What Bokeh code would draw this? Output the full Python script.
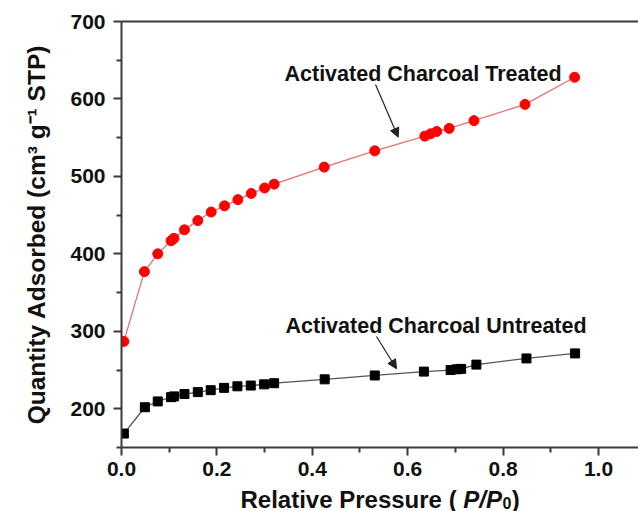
from bokeh.plotting import figure
from bokeh.layouts import column
from bokeh.models import (Range1d, FixedTicker, LinearAxis, Label, Arrow, NormalHead,
                          ColumnDataSource)
from bokeh.embed import file_html
from bokeh.resources import INLINE

# ---------------- data ----------------
treated_x = [0.005, 0.048, 0.076, 0.104, 0.110, 0.132, 0.160, 0.188, 0.216, 0.244, 0.272,
             0.300, 0.320, 0.425, 0.531, 0.636, 0.648, 0.661, 0.687, 0.739, 0.846, 0.950]
treated_y = [287, 377, 400, 417, 420, 431, 443, 454, 462, 470, 478,
             485, 490, 512, 533, 552, 555, 558, 562, 572, 593, 628]

untreated_x = [0.005, 0.049, 0.076, 0.104, 0.110, 0.132, 0.160, 0.187, 0.215, 0.243, 0.271,
               0.299, 0.320, 0.426, 0.531, 0.634, 0.690, 0.703, 0.712, 0.744, 0.849, 0.951]
untreated_y = [168, 202, 209.5, 215, 216, 219, 221.5, 224, 227, 229, 230,
               231.5, 233, 238, 243, 248, 250, 251, 251.5, 257, 265, 271.5]

x_major = [0.0, 0.2, 0.4, 0.6, 0.8, 1.0]
x_minor = [0.1, 0.3, 0.5, 0.7, 0.9]
y_major = [200, 300, 400, 500, 600, 700]
y_minor = [150, 250, 350, 450, 550, 650]

label_treated = "Activated Charcoal Treated"
label_untreated = "Activated Charcoal Untreated"
y_title = "Quantity Adsorbed (cm\u00b3 g\u207b\u00b9 STP)"
x_title_parts = ["Relative Pressure (", "P/P", "0", ")"]

FONT = "Liberation Sans"
AXC = "#3a3a3a"
TXT = "#111111"

# ---------------- layout ----------------
W = 638
H_MAIN = 484
H_TITLE = 27
FL, FT, FB = 121, 21, 447          # frame left / top / bottom in pixels
X0, X1 = 0.0, 1.0839
Y0, Y1 = 150, 700

def px_x(px):
    return X0 + (px - FL) * (X1 - X0) / (W - FL)

def px_y(py):
    return Y1 - (py - FT) * (Y1 - Y0) / (FB - FT)

p = figure(width=W, height=H_MAIN, x_range=Range1d(X0, X1), y_range=Range1d(Y0, Y1),
           output_backend="svg", toolbar_location=None, title=None,
           min_border_left=FL, min_border_right=0, min_border_top=FT,
           min_border_bottom=H_MAIN - FB)
p.outline_line_color = None
p.xgrid.visible = False
p.ygrid.visible = False
p.background_fill_color = "white"
p.border_fill_color = "white"

# x axis
xa = p.xaxis[0]
xa.ticker = FixedTicker(ticks=x_major, minor_ticks=x_minor)
xa.major_label_overrides = {v: f"{v:.1f}" for v in x_major}
xa.axis_line_color = AXC
xa.axis_line_width = 2
xa.major_tick_line_color = AXC
xa.major_tick_line_width = 2
xa.minor_tick_line_color = AXC
xa.minor_tick_line_width = 2
xa.major_tick_out = 8
xa.major_tick_in = 0
xa.minor_tick_out = 5
xa.minor_tick_in = 0
xa.major_label_text_font = FONT
xa.major_label_text_font_style = "bold"
xa.major_label_text_font_size = "21px"
xa.major_label_text_color = TXT
xa.major_label_standoff = 6

# y axis
ya = p.yaxis[0]
ya.ticker = FixedTicker(ticks=y_major, minor_ticks=y_minor)
ya.axis_line_color = AXC
ya.axis_line_width = 2
ya.major_tick_line_color = AXC
ya.major_tick_line_width = 2
ya.minor_tick_line_color = AXC
ya.minor_tick_line_width = 2
ya.major_tick_out = 8
ya.major_tick_in = 0
ya.minor_tick_out = 5
ya.minor_tick_in = 0
ya.major_label_text_font = FONT
ya.major_label_text_font_style = "bold"
ya.major_label_text_font_size = "21px"
ya.major_label_text_color = TXT
ya.major_label_standoff = 8
ya.axis_label = y_title
ya.axis_label_text_font = FONT
ya.axis_label_text_font_style = "bold"
ya.axis_label_text_font_size = "24.5px"
ya.axis_label_text_color = TXT
ya.axis_label_standoff = 17

# top border line (no ticks)
top = LinearAxis(ticker=FixedTicker(ticks=[]), axis_line_color=AXC, axis_line_width=2,
                 major_tick_line_color=None, minor_tick_line_color=None,
                 major_label_text_font_size="0px")
p.add_layout(top, "above")

# ---------------- series ----------------
src_t = ColumnDataSource(dict(x=treated_x, y=treated_y))
src_u = ColumnDataSource(dict(x=untreated_x, y=untreated_y))

p.line("x", "y", source=src_t, line_color="#e87070", line_width=1.3)
p.scatter("x", "y", source=src_t, marker="circle", size=10,
          fill_color="#ff0000", line_color="#ff0000")

p.line("x", "y", source=src_u, line_color="#555555", line_width=1.3)
p.scatter("x", "y", source=src_u, marker="square", size=9,
          fill_color="#000000", line_color="#000000")

# ---------------- annotations ----------------
p.add_layout(Label(x=px_x(284), y=px_y(73), text=label_treated, text_font=FONT,
                   text_font_style="bold", text_font_size="21.5px", text_color=TXT,
                   text_align="left", text_baseline="middle"))
p.add_layout(Label(x=px_x(285), y=px_y(325), text=label_untreated, text_font=FONT,
                   text_font_style="bold", text_font_size="21.5px", text_color=TXT,
                   text_align="left", text_baseline="middle"))

p.add_layout(Arrow(x_start=px_x(375), y_start=px_y(84), x_end=px_x(397.7), y_end=px_y(136.7),
                   line_color="#222222", line_width=1.2,
                   end=NormalHead(size=9, fill_color="#222222", line_color="#222222")))
p.add_layout(Arrow(x_start=px_x(376), y_start=px_y(336), x_end=px_x(396), y_end=px_y(368.3),
                   line_color="#222222", line_width=1.2,
                   end=NormalHead(size=9, fill_color="#222222", line_color="#222222")))

# ---------------- x-axis title strip (mixed styles) ----------------
t = figure(width=W, height=H_TITLE, x_range=Range1d(FL, W),
           y_range=Range1d(H_MAIN + H_TITLE, H_MAIN),
           output_backend="svg", toolbar_location=None, title=None,
           x_axis_type=None, y_axis_type=None,
           min_border_left=FL, min_border_right=0, min_border_top=0, min_border_bottom=0)
t.outline_line_color = None
t.xgrid.visible = False
t.ygrid.visible = False
t.background_fill_color = "white"
t.border_fill_color = "white"

base = 498.5                 # baseline in strip coordinates (renders near page y 506)
xs = 240.0
fs = 24
w1 = 9.004 * fs              # "Relative Pressure (" in Arial-Bold metrics
gap = 0.278 * fs
w2 = 1.612 * fs              # "P/P"
w3 = 0.556 * 16              # subscript "0"
pieces = [
    (xs, base, x_title_parts[0], "bold", f"{fs}px"),
    (xs + w1 + gap, base, x_title_parts[1], "bold italic", f"{fs}px"),
    (xs + w1 + gap + w2 + 0.5, base + 4, x_title_parts[2], "bold", "16px"),
    (xs + w1 + gap + w2 + w3 + 1.0, base, x_title_parts[3], "bold", f"{fs}px"),
]
for (lx, ly, txt, style, size) in pieces:
    t.add_layout(Label(x=lx, y=ly, text=txt, text_font=FONT, text_font_style=style,
                       text_font_size=size, text_color=TXT, text_align="left",
                       text_baseline="alphabetic"))

layout = column(p, t, spacing=0)
open("out.html", "w").write(file_html(layout, INLINE))
